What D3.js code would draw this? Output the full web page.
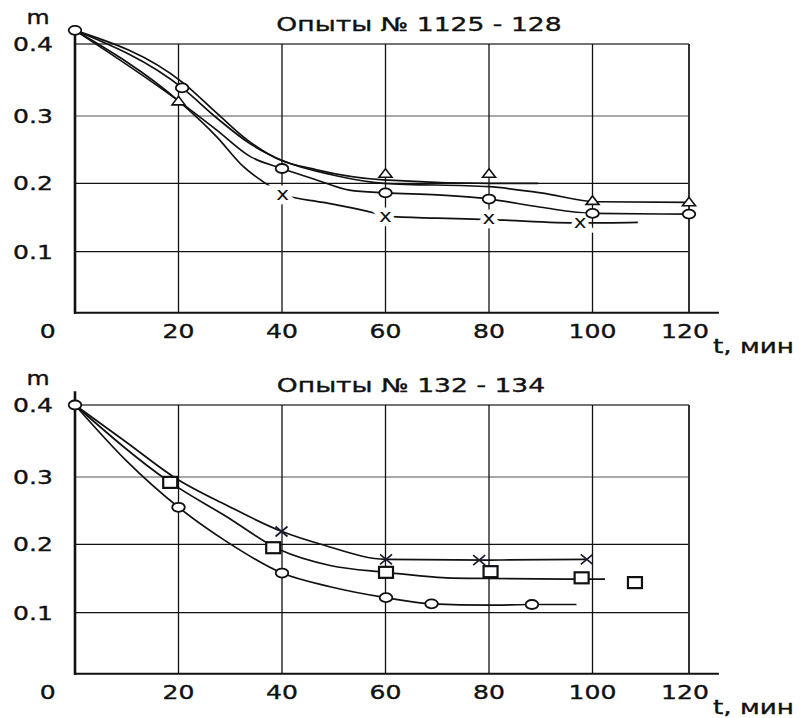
<!DOCTYPE html>
<html lang="ru">
<head>
<meta charset="UTF-8">
<title>Опыты</title>
<script src="https://d3js.org/d3.v7.min.js"></script>
<style>
  body { margin: 0; padding: 0; background: #fff; }
  text { font-family: 'DejaVu Sans', Verdana, sans-serif; fill: #111; }
  .lbl { stroke: #111; stroke-width: 0.35px; }
</style>
</head>
<body>
<svg id="chart" width="807" height="718"></svg>

<script>
// ---- data ----
var xTicks = [20, 40, 60, 80, 100, 120];
var xTickLabels = ["20", "40", "60", "80", "100", "120"];
var yTicks = [0.1, 0.2, 0.3, 0.4];
var yTickLabels = ["0.1", "0.2", "0.3", "0.4"];

// top: Опыты № 1125 - 128
var topTitle = "Опыты № 1125 - 128";
var topCircles = [[0, 0.419], [20.7, 0.339], [40, 0.222], [60, 0.186], [80, 0.177], [100, 0.156], [120, 0.155]];
var topTriangles = [[20, 0.321], [60, 0.215], [80, 0.215], [100, 0.175], [120, 0.173]];
var topCrosses = [[40.1, 0.183], [60, 0.151], [80, 0.148], [97.6, 0.142]];
var topCurveCircle = [[0, 0.419], [20, 0.321], [27.4, 0.279], [33.8, 0.24], [40, 0.222], [46.7, 0.205], [53, 0.19], [60, 0.186], [70, 0.183], [80, 0.177], [90, 0.165], [100, 0.156], [120, 0.155]];
var topCurveTriangle = [[0, 0.419], [20.9, 0.338], [27.4, 0.297], [33.8, 0.259], [40.3, 0.233], [50, 0.212], [59.6, 0.2], [80, 0.195], [90, 0.186], [101, 0.173], [120, 0.172]];
var topCurvePlain = [[0, 0.419], [20.9, 0.346], [27.4, 0.304], [33.2, 0.265], [39, 0.237], [46.7, 0.22], [59.6, 0.205], [80, 0.2], [89.5, 0.2]];
var topCurveCross = [[0, 0.419], [20, 0.321], [27.4, 0.269], [32.5, 0.225], [37.4, 0.197], [40.1, 0.184], [48, 0.172], [57.6, 0.157], [60, 0.152], [70, 0.149], [80, 0.147], [97.6, 0.142], [109.4, 0.143]];

// bottom: Опыты № 132 - 134
var botTitle = "Опыты № 132 - 134";
var botCircles = [[0, 0.4], [20, 0.255], [40, 0.158], [60.1, 0.122], [68.9, 0.113], [88.3, 0.112]];
var botSquares = [[18.4, 0.292], [38.3, 0.195], [60.1, 0.159], [80.3, 0.16], [97.9, 0.151], [108.8, 0.144]];
var botCrosses = [[39.9, 0.219], [60.1, 0.178], [78.1, 0.177], [98.9, 0.178]];
var botCurveCircle = [[0, 0.4], [10, 0.322], [20, 0.255], [29.3, 0.204], [40, 0.158], [49.3, 0.138], [60.1, 0.122], [68.9, 0.113], [80, 0.111], [88.3, 0.112], [96.9, 0.112]];
var botCurveSquare = [[0, 0.4], [18.4, 0.292], [29.3, 0.241], [39.6, 0.192], [49.3, 0.169], [60.1, 0.159], [71.8, 0.151], [80, 0.15], [95, 0.149], [102.6, 0.149]];
var botCurveCross = [[0, 0.4], [10, 0.348], [19.3, 0.299], [29.3, 0.258], [40, 0.219], [48, 0.199], [60.1, 0.178], [80, 0.177], [98.9, 0.178]];

var svg = d3.select("#chart");

function addText(g, x, y, str, size, anchor, sx) {
  return g.append("text")
    .attr("class", "lbl")
    .attr("transform", "translate(" + x + "," + y + ") scale(" + sx + ",1)")
    .attr("text-anchor", anchor)
    .style("font-size", size + "px")
    .text(str);
}

function drawPanel(top, title, titleX, curves, markers) {
  var g = svg.append("g");

  var xScale = d3.scaleLinear().domain([0, 100, 120]).range([75, 592.5, 689]);
  var yScale = d3.scaleLinear().domain([0, 0.1, 0.2, 0.3, 0.4])
    .range([top + 276.7, top + 207.7, top + 139.3, top + 72, top]);
  var yBase = 0.0115;
  var yAxis = yScale(yBase);

  // horizontal grid
  yTicks.forEach(function(v) {
    g.append("line")
      .attr("x1", xScale(0)).attr("x2", xScale(120))
      .attr("y1", yScale(v)).attr("y2", yScale(v))
      .attr("stroke", v == 0.3 ? "#8c8c8c" : (v == 0.4 ? "#444" : "#111"))
      .attr("stroke-width", v == 0.1 || v == 0.2 ? 1.2 : 1.6);
  });

  // vertical grid
  xTicks.forEach(function(t) {
    g.append("line")
      .attr("x1", xScale(t)).attr("x2", xScale(t))
      .attr("y1", yScale(0.4)).attr("y2", yAxis)
      .attr("stroke", t == 120 ? "#333" : "#111")
      .attr("stroke-width", t == 120 ? 2 : 1.3);
  });

  // axes
  g.append("line")
    .attr("x1", xScale(0)).attr("x2", xScale(0))
    .attr("y1", yScale(0.419)).attr("y2", yAxis + 1)
    .attr("stroke", "#111").attr("stroke-width", 2.6);
  g.append("line")
    .attr("x1", xScale(0) - 1).attr("x2", xScale(126.2))
    .attr("y1", yAxis).attr("y2", yAxis)
    .attr("stroke", "#111").attr("stroke-width", 2);

  // labels
  yTicks.forEach(function(v, i) {
    addText(g, 53, yScale(v) + 7, yTickLabels[i], 19, "end", 1.32);
  });
  xTicks.forEach(function(t, i) {
    addText(g, xScale(t) - (t == 120 ? 4 : 0), yAxis + 25.5, xTickLabels[i], 19, "middle", 1.32);
  });
  addText(g, 47.7, yAxis + 25.5, "0", 19, "middle", 1.32);
  addText(g, 38, top - 20, "m", 19, "middle", 1.25);
  addText(g, 713, yAxis + 40, "t, мин", 19, "start", 1.38);
  addText(g, titleX, top - 13, title, 19, "middle", 1.4);

  // curves
  var line = d3.line()
    .x(function(d) { return xScale(d[0]); })
    .y(function(d) { return yScale(d[1]); })
    .curve(d3.curveMonotoneX);

  curves.forEach(function(c) {
    g.append("path")
      .attr("d", line(c))
      .attr("fill", "none")
      .attr("stroke", "#111")
      .attr("stroke-width", 1.7);
  });

  // markers
  markers.forEach(function(m) {
    var pts = g.append("g").selectAll("g")
      .data(m.data)
      .enter().append("g")
      .attr("transform", function(d) { return "translate(" + xScale(d[0]) + "," + yScale(d[1]) + ")"; });

    if (m.type == "circle") {
      pts.append("ellipse")
        .attr("rx", 6.3).attr("ry", 4.5)
        .attr("fill", "#fff").attr("stroke", "#111").attr("stroke-width", 1.8);
    } else if (m.type == "triangle") {
      pts.append("path")
        .attr("d", "M-6.5,4 L0,-4.5 L6.5,4 Z")
        .attr("fill", "#fff").attr("stroke", "#111").attr("stroke-width", 1.6);
    } else if (m.type == "square") {
      pts.append("rect")
        .attr("x", -7).attr("y", -5.5).attr("width", 14).attr("height", 11)
        .attr("fill", "#fff").attr("stroke", "#111").attr("stroke-width", 2.2);
    } else if (m.type == "xtext") {
      pts.append("text")
        .attr("transform", "translate(0,5) scale(1.2,1)")
        .attr("text-anchor", "middle")
        .style("font-size", "18px")
        .style("paint-order", "stroke")
        .attr("stroke", "#fff").attr("stroke-width", 9)
        .text("x");
    } else if (m.type == "cross") {
      pts.append("path")
        .attr("d", "M-6,-5 L6,5 M-6,5 L6,-5")
        .attr("stroke", "#1a1a2e").attr("stroke-width", 1.7).attr("fill", "none");
    }
  });
}

drawPanel(44, topTitle, 419,
  [topCurveCircle, topCurveTriangle, topCurvePlain, topCurveCross],
  [{type: "xtext", data: topCrosses},
   {type: "triangle", data: topTriangles},
   {type: "circle", data: topCircles}]);

drawPanel(405, botTitle, 411,
  [botCurveCircle, botCurveSquare, botCurveCross],
  [{type: "cross", data: botCrosses},
   {type: "square", data: botSquares},
   {type: "circle", data: botCircles}]);
</script>
</body>
</html>
